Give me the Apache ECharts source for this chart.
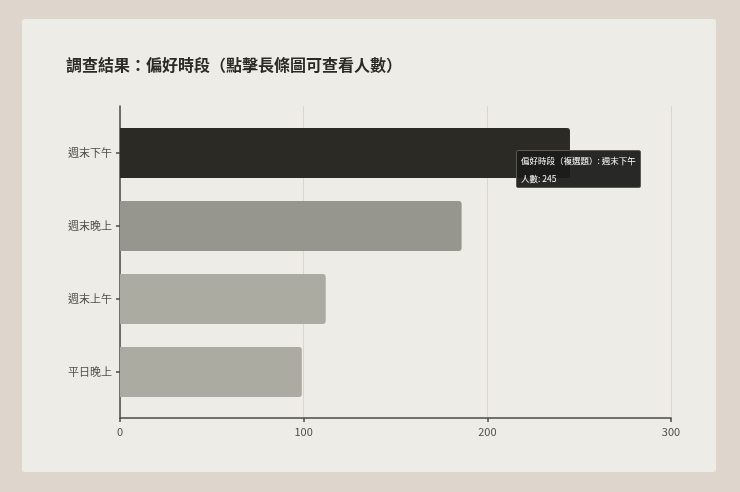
<!DOCTYPE html>
<html>
<head>
<meta charset="utf-8">
<script src="https://cdn.jsdelivr.net/npm/echarts@6/dist/echarts.min.js"></script>
<style>
  html, body { margin: 0; padding: 0; background: #ded6cd; width: 740px; height: 492px; overflow: hidden; }
  #card { position: absolute; left: 22px; top: 19px; width: 694px; height: 453px; background: #eeece6; border-radius: 3px; }
  #main { width: 694px; height: 453px; }
</style>
</head>
<body>
<div id="card"><div id="main"></div></div>
<script>
// 偏好時段調查資料
const categories = ['週末下午', '週末晚上', '週末上午', '平日晚上'];
const counts = [245, 186, 112, 99];
const xTicks = [0, 100, 200, 300];
const seriesName = '偏好時段（複選題）';

// 顏色（第一條為選取中的長條）
const barColors = ['#2b2a25', '#96958e', '#acaba1', '#acaba1'];

const font = '"Noto Sans CJK TC", "Noto Sans", sans-serif';
const chart = echarts.init(document.getElementById('main'));

const option = {
  animation: false,
  textStyle: { fontFamily: font },
  title: {
    text: '調查結果：偏好時段（點擊長條圖可查看人數）',
    left: 39,
    top: 33,
    textStyle: { fontSize: 16, fontWeight: 'bold', color: '#2a2a26', fontFamily: font }
  },
  tooltip: {
    trigger: 'item',
    alwaysShowContent: true,
    backgroundColor: 'rgba(28,28,26,0.94)',
    borderColor: '#5a5a56',
    borderWidth: 1,
    borderRadius: 2,
    padding: [0, 4],
    extraCssText: 'box-shadow:none;line-height:18px;',
    textStyle: { color: '#fff', fontSize: 8.5, fontFamily: font },
    position: function () { return [494, 131]; },
    formatter: function (p) {
      return p.seriesName + ': ' + p.name + '<br/>人數: ' + p.value;
    }
  },
  grid: [
    { left: 98, right: 45, top: 87, bottom: 54 },
    { left: 98, right: 45, top: 97.5, bottom: 63.5 }
  ],
  xAxis: [
    {
      gridIndex: 0,
      type: 'value',
      min: xTicks[0],
      max: xTicks[xTicks.length - 1],
      interval: 100,
      axisLine: { show: true, lineStyle: { color: '#4a4a46', width: 1.5 } },
      axisTick: { show: true, length: 4, lineStyle: { color: '#4a4a46', width: 1.5 } },
      axisLabel: { color: '#4d4d4a', fontSize: 11, margin: 8 },
      splitLine: { show: true, lineStyle: { color: '#d9d7d0', width: 1 } }
    },
    {
      gridIndex: 1,
      type: 'value',
      min: xTicks[0],
      max: xTicks[xTicks.length - 1],
      show: false
    }
  ],
  yAxis: [
    {
      gridIndex: 0,
      type: 'value',
      axisLine: { show: true, lineStyle: { color: '#4a4a46', width: 1.5 } },
      axisTick: { show: false },
      axisLabel: { show: false },
      splitLine: { show: false }
    },
    {
      gridIndex: 1,
      type: 'category',
      inverse: true,
      data: categories,
      axisLine: { show: false },
      axisTick: { show: true, alignWithLabel: true, length: 4, lineStyle: { color: '#4a4a46', width: 1.5 } },
      axisLabel: { color: '#4d4d4a', fontSize: 11, margin: 8 }
    }
  ],
  series: [
    {
      name: seriesName,
      type: 'bar',
      xAxisIndex: 1,
      yAxisIndex: 1,
      barWidth: 50,
      data: counts.map(function (v, i) {
        return { value: v, itemStyle: { color: barColors[i] } };
      }),
      itemStyle: { borderRadius: [0, 3, 3, 0] },
      emphasis: { disabled: true }
    }
  ]
};

chart.setOption(option);
chart.dispatchAction({ type: 'showTip', seriesIndex: 0, dataIndex: 0 });
</script>
</body>
</html>
